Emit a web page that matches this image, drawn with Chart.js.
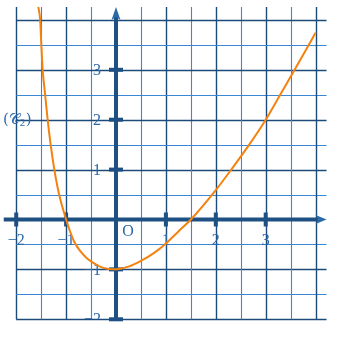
<!DOCTYPE html>
<html>
<head>
<meta charset="utf-8">
<script src="https://cdn.jsdelivr.net/npm/chart.js@4"></script>
<style>
  html, body { margin: 0; padding: 0; background: #fff; }
  #wrap { width: 339px; height: 340px; }
</style>
</head>
<body>
<div id="wrap"><canvas id="c"></canvas></div>
<script>
// curve (C2)
const curveX = [-1.557, -1.52, -1.497, -1.47, -1.42, -1.37, -1.31, -1.236, -1.14, -1.0,
  -0.92, -0.84, -0.72, -0.6, -0.5, -0.32, -0.15, 0.0, 0.25, 0.5, 0.75, 1.0, 1.25, 1.5,
  2.0, 2.31, 2.67, 3.0, 3.29, 3.58, 3.865, 4.0];
const curveY = [4.26, 4.0, 3.5, 3.0, 2.5, 2.0, 1.5, 1.0, 0.5, 0.0,
  -0.24, -0.44, -0.63, -0.76, -0.84, -0.945, -0.99, -0.995, -0.945, -0.83, -0.68, -0.48, -0.24, 0.0,
  0.59, 1.0, 1.5, 2.0, 2.5, 3.0, 3.5, 3.745];

const xTicks = [-2, -1, 1, 2, 3];
const xTickLabels = ["−2", "−1", "1", "2", "3"];
const yTicks = [3, 2, 1, -1, -2];
const yTickLabels = ["3", "2", "1", "−1", "−2"];
const curveName = "(𝒞";
const curveSub = "2";

const DARK = "#1c4b7a";
const LIGHT = "#3a87d3";
const AXIS = "#1f5083";
const TEXT = "#2a68ad";
const FONT = "16px 'Liberation Serif', 'Times New Roman', serif";

// axes, grid and labels drawn under the curve
const repere = {
  id: "repere",
  beforeDatasetsDraw(chart) {
    const { ctx } = chart;
    const xs = chart.scales.x, ys = chart.scales.y;
    const px = (v) => xs.getPixelForValue(v);
    const py = (v) => ys.getPixelForValue(v);
    const top = py(4.26), bottom = py(-2), left = px(-2), right = px(4.22);

    ctx.save();
    // grid every half unit
    for (let i = -4; i <= 8; i++) {
      const v = i / 2;
      const dark = Number.isInteger(v);
      ctx.strokeStyle = dark ? DARK : LIGHT;
      ctx.lineWidth = dark ? 1.4 : 1.1;
      if (v !== 0) {
        const x = Math.round(px(v)) + 0.5;
        ctx.beginPath(); ctx.moveTo(x, bottom); ctx.lineTo(x, top); ctx.stroke();
        const y = Math.round(py(v)) + 0.5;
        ctx.beginPath(); ctx.moveTo(left, y); ctx.lineTo(right, y); ctx.stroke();
      }
    }

    // axes
    const ox = px(0), oy = py(0);
    ctx.strokeStyle = AXIS;
    ctx.lineWidth = 4;
    ctx.beginPath(); ctx.moveTo(px(-2.25), oy); ctx.lineTo(right - 8, oy); ctx.stroke();
    ctx.beginPath(); ctx.moveTo(ox, bottom); ctx.lineTo(ox, top + 9); ctx.stroke();

    // arrow heads
    ctx.fillStyle = "#2a6aa8";
    ctx.beginPath();
    ctx.moveTo(right, oy);
    ctx.lineTo(right - 11, oy - 4.5);
    ctx.lineTo(right - 8, oy);
    ctx.lineTo(right - 11, oy + 4.5);
    ctx.closePath(); ctx.fill();
    ctx.beginPath();
    ctx.moveTo(ox, top);
    ctx.lineTo(ox - 4.5, top + 13);
    ctx.lineTo(ox, top + 10);
    ctx.lineTo(ox + 4.5, top + 13);
    ctx.closePath(); ctx.fill();

    // tick marks
    ctx.fillStyle = AXIS;
    xTicks.forEach((v) => ctx.fillRect(px(v) - 2, oy - 7, 4, 14));
    yTicks.forEach((v) => ctx.fillRect(ox - 7, py(v) - 2, 14, 4));

    // labels
    ctx.beginPath();
    ctx.rect(0, 0, chart.width, bottom);
    ctx.clip();
    ctx.fillStyle = TEXT;
    ctx.font = FONT;
    ctx.textBaseline = "middle";
    ctx.textAlign = "center";
    xTicks.forEach((v, i) => ctx.fillText(xTickLabels[i], px(v), oy + 21));
    ctx.textAlign = "right";
    yTicks.forEach((v, i) => ctx.fillText(yTickLabels[i], ox - 15, py(v) + 1));
    ctx.textAlign = "center";
    ctx.fillText("O", ox + 12, oy + 12);

    ctx.textAlign = "left";
    ctx.font = "15px 'DejaVu Serif', serif";
    const ly = py(2);
    ctx.fillText(curveName, 3, ly);
    const w = ctx.measureText(curveName).width;
    ctx.font = "11px 'Liberation Serif', serif";
    ctx.fillText(curveSub, 3 + w, ly + 3);
    const w2 = ctx.measureText(curveSub).width;
    ctx.font = "15px 'DejaVu Serif', serif";
    ctx.fillText(")", 3 + w + w2 + 0.5, ly);
    ctx.restore();
  }
};

new Chart(document.getElementById("c"), {
  type: "line",
  data: {
    datasets: [{
      label: "C2",
      data: curveX.map((x, i) => ({ x, y: curveY[i] })),
      borderColor: "#f4820e",
      borderWidth: 2,
      pointRadius: 0,
      fill: false,
      cubicInterpolationMode: "monotone"
    }]
  },
  options: {
    responsive: true,
    maintainAspectRatio: false,
    animation: false,
    devicePixelRatio: 1,
    layout: { padding: 0 },
    plugins: { legend: { display: false }, tooltip: { enabled: false } },
    scales: {
      x: { type: "linear", display: false, min: -2.325, max: 4.469 },
      y: { type: "linear", display: false, min: -2.415, max: 4.399 }
    }
  },
  plugins: [repere]
});
</script>
</body>
</html>
